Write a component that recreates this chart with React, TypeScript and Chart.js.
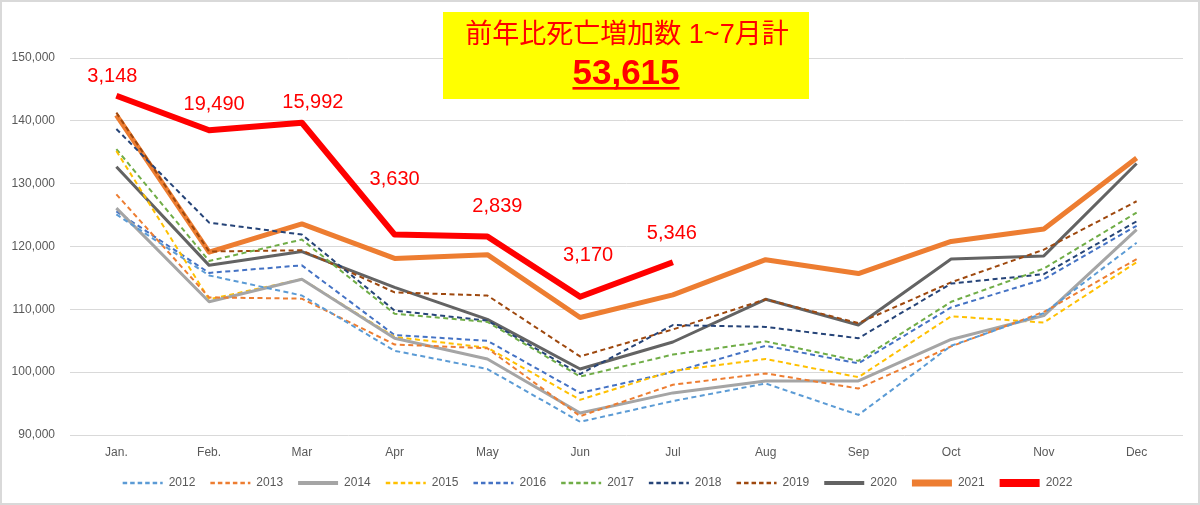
import React, { useEffect, useRef } from "react";
import { Chart, registerables } from "chart.js";

Chart.register(...registerables);

const months = ["Jan.", "Feb.", "Mar", "Apr", "May", "Jun", "Jul", "Aug", "Sep", "Oct", "Nov", "Dec"];

const d2012 = [125100, 115400, 112200, 103400, 100500, 92100, 95400, 98200, 93200, 104200, 109400, 120600];
const d2013 = [128300, 111900, 111700, 104400, 103800, 93000, 98000, 99800, 97400, 104100, 109600, 118000];
const d2014 = [126100, 111200, 114800, 105400, 102100, 93500, 96700, 98600, 98600, 105200, 109000, 122700];
const d2015 = [135200, 111600, 114800, 105600, 103900, 95600, 100200, 102100, 99200, 108900, 107900, 117500];
const d2016 = [125600, 115800, 117000, 105900, 105000, 96700, 100000, 104200, 101400, 110300, 114800, 123300];
const d2017 = [135500, 117700, 121100, 109300, 108000, 99300, 102800, 104900, 101800, 111200, 116500, 125400];
const d2018 = [138700, 123800, 121900, 109800, 108200, 99700, 107500, 107200, 105400, 114100, 115600, 124000];
const d2019 = [141300, 119200, 119400, 112700, 112200, 102500, 106800, 111600, 107800, 114300, 119500, 127200];
const d2020 = [132700, 117000, 119200, 113500, 108400, 100500, 104800, 111600, 107500, 118000, 118500, 133200];
const d2021 = [140900, 119100, 123600, 118100, 118700, 108700, 112300, 117900, 115700, 120800, 122800, 134100];
const d2022 = [144000, 138500, 139700, 121900, 121600, 112000, 117500, null, null, null, null, null];

const diffLabels = ["3,148", "19,490", "15,992", "3,630", "2,839", "3,170", "5,346"];

const titleLine1 = "前年比死亡増加数 1~7月計";
const titleLine2 = "53,615";

// label offsets (style, px) relative to each 2022 point
const labelOffsets: [number, number][] = [
  [-4, -19], [5, -26], [11, -20], [0, -55], [10, -30], [8, -41], [-1, -29],
];

const FONT = "'Liberation Sans', Arial, sans-serif";

const bgBorderPlugin = {
  id: "bgBorder",
  beforeDraw(chart: any) {
    const { ctx, width, height } = chart;
    ctx.save();
    ctx.fillStyle = "#ffffff";
    ctx.fillRect(0, 0, width, height);
    ctx.restore();
  },
  afterDraw(chart: any) {
    const { ctx, width, height } = chart;
    ctx.save();
    ctx.strokeStyle = "#d9d9d9";
    ctx.lineWidth = 2;
    ctx.strokeRect(1, 1, width - 2, height - 2);
    ctx.restore();
  },
};

const diffLabelPlugin = {
  id: "diffLabels",
  afterDatasetsDraw(chart: any) {
    const { ctx } = chart;
    const idx = chart.data.datasets.findIndex((d: any) => d.label === "2022");
    const meta = chart.getDatasetMeta(idx);
    ctx.save();
    ctx.fillStyle = "#ff0000";
    ctx.font = `20px ${FONT}`;
    ctx.textAlign = "center";
    ctx.textBaseline = "middle";
    diffLabels.forEach((t, i) => {
      const p = meta.data[i];
      if (!p) return;
      const [dx, dy] = labelOffsets[i];
      ctx.fillText(t, p.x + dx, p.y + dy);
    });
    ctx.restore();
  },
};

const titleBoxPlugin = {
  id: "titleBox",
  afterDraw(chart: any) {
    const { ctx } = chart;
    const x = 443, y = 12, w = 366, h = 87;
    ctx.save();
    ctx.fillStyle = "#ffff00";
    ctx.fillRect(x, y, w, h);
    ctx.fillStyle = "#ff0000";
    ctx.textAlign = "center";
    ctx.textBaseline = "middle";
    const cx = x + w / 2;
    ctx.font = `27px ${FONT}, 'Noto Sans CJK JP'`;
    ctx.fillText(titleLine1, cx + 1, 36);
    ctx.font = `bold 35px ${FONT}`;
    ctx.fillText(titleLine2, cx, 74);
    const tw = ctx.measureText(titleLine2).width;
    ctx.fillRect(cx - tw / 2, 87, tw, 2.6);
    ctx.restore();
  },
};

type S = { label: string; data: (number | null)[]; color: string; width: number; legendWidth: number; dash?: number[] };

const DASH = [5, 3.5];

const seriesDefs: S[] = [
  { label: "2012", data: d2012, color: "#5B9BD5", width: 2, legendWidth: 2.5, dash: DASH },
  { label: "2013", data: d2013, color: "#ED7D31", width: 2, legendWidth: 2.5, dash: DASH },
  { label: "2014", data: d2014, color: "#A5A5A5", width: 3, legendWidth: 4 },
  { label: "2015", data: d2015, color: "#FFC000", width: 2, legendWidth: 2.5, dash: DASH },
  { label: "2016", data: d2016, color: "#4472C4", width: 2, legendWidth: 2.5, dash: DASH },
  { label: "2017", data: d2017, color: "#70AD47", width: 2, legendWidth: 2.5, dash: DASH },
  { label: "2018", data: d2018, color: "#264478", width: 2, legendWidth: 2.5, dash: DASH },
  { label: "2019", data: d2019, color: "#9E480E", width: 2, legendWidth: 2.5, dash: DASH },
  { label: "2020", data: d2020, color: "#636363", width: 3, legendWidth: 4 },
  { label: "2021", data: d2021, color: "#ED7D31", width: 5, legendWidth: 7 },
  { label: "2022", data: d2022, color: "#FF0000", width: 6, legendWidth: 8 },
];

export default function App() {
  const ref = useRef<HTMLCanvasElement>(null);
  useEffect(() => {
    if (!ref.current) return;
    const chart = new Chart(ref.current, {
      type: "line",
      data: {
        labels: months,
        datasets: seriesDefs.map((s) => ({
          label: s.label,
          data: s.data,
          borderColor: s.color,
          backgroundColor: s.color,
          borderWidth: s.width,
          borderDash: s.dash || [],
          pointRadius: 0,
          tension: 0,
          fill: false,
          borderJoinStyle: "round" as const,
        })),
      },
      options: {
        responsive: false,
        animation: false,
        devicePixelRatio: 1,
        layout: { padding: { top: 58, left: 12, right: 17, bottom: 6 } },
        scales: {
          x: {
            offset: true,
            grid: { display: false, drawTicks: false },
            border: { display: false },
            ticks: { color: "#595959", font: { size: 12, family: FONT }, padding: 10 },
            afterFit: (s: any) => {
              s.height = 27;
            },
          },
          y: {
            min: 90000,
            max: 150000,
            grid: { color: "#d9d9d9", drawTicks: false },
            border: { display: false },
            ticks: {
              stepSize: 10000,
              color: "#595959",
              font: { size: 12, family: FONT },
              padding: 15,
              callback: (v: any) => Number(v).toLocaleString("en-US"),
            },
            afterFit: (s: any) => {
              s.width = 58;
            },
          },
        },
        plugins: {
          legend: {
            position: "bottom",
            labels: {
              usePointStyle: true,
              pointStyle: "line",
              pointStyleWidth: 40,
              padding: 15,
              color: "#595959",
              font: { size: 12, family: FONT },
              generateLabels: (c: any) => {
                const items = (Chart.defaults as any).plugins.legend.labels.generateLabels(c);
                items.forEach((it: any) => {
                  const def = seriesDefs[it.datasetIndex];
                  it.lineDash = def.dash ? [4.5, 3] : [];
                  it.lineWidth = def.legendWidth;
                  it.strokeStyle = def.color;
                });
                return items;
              },
            },
          },
          tooltip: { enabled: false },
        },
      },
      plugins: [bgBorderPlugin, diffLabelPlugin, titleBoxPlugin],
    });
    return () => chart.destroy();
  }, []);
  return (
    <div style={{ position: "absolute", left: 0, top: 0, width: 1200, height: 505 }}>
      <canvas ref={ref} width={1200} height={505} style={{ display: "block" }} />
    </div>
  );
}
